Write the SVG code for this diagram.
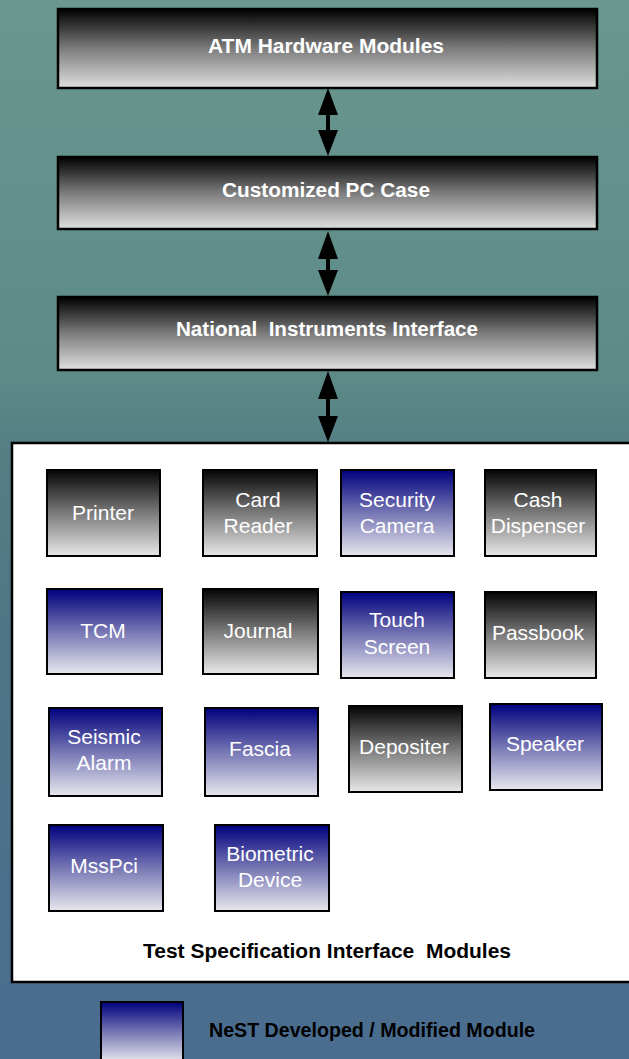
<svg xmlns="http://www.w3.org/2000/svg" width="629" height="1059" viewBox="0 0 629 1059">
<defs>
<linearGradient id="bg" x1="0" y1="0" x2="0" y2="1">
<stop offset="0" stop-color="#6a978f"/>
<stop offset="0.36" stop-color="#5c8a87"/>
<stop offset="0.42" stop-color="#557f84"/>
<stop offset="0.6" stop-color="#4e7585"/>
<stop offset="1" stop-color="#4a6c8f"/>
</linearGradient>
<linearGradient id="gTop" x1="0" y1="0" x2="0" y2="1">
<stop offset="0" stop-color="#000"/>
<stop offset="0.5" stop-color="#7c7c7c"/>
<stop offset="1" stop-color="#e0e0e0"/>
</linearGradient>
<linearGradient id="gBlk" x1="0" y1="0" x2="0" y2="1">
<stop offset="0" stop-color="#050505"/>
<stop offset="0.5" stop-color="#7a7a7a"/>
<stop offset="1" stop-color="#e8e8e8"/>
</linearGradient>
<linearGradient id="gBlu" x1="0" y1="0" x2="0" y2="1">
<stop offset="0" stop-color="#00007e"/>
<stop offset="0.5" stop-color="#7676b4"/>
<stop offset="1" stop-color="#e8e8ee"/>
</linearGradient>
<style>
.top{fill:url(#gTop);stroke:#000;stroke-width:2.5}
.blk{fill:url(#gBlk);stroke:#000;stroke-width:2}
.blu{fill:url(#gBlu);stroke:#000;stroke-width:2}
.tt{font-family:"Liberation Sans",Arial,sans-serif;font-weight:bold;font-size:20px;fill:#fff;text-anchor:middle}
.mt{font-family:"Liberation Sans",Arial,sans-serif;font-size:21px;fill:#fff;text-anchor:middle}
.bt{font-family:"Liberation Sans",Arial,sans-serif;font-weight:bold;font-size:20px;fill:#000}
.arr{fill:#000}
</style>
</defs>
<rect x="0" y="0" width="629" height="1059" fill="url(#bg)"/>

<g id="atm-hardware">
<rect class="top" x="58" y="9" width="539" height="79"/>
<text class="tt" x="326" y="53" textLength="236" lengthAdjust="spacingAndGlyphs">ATM Hardware Modules</text>
</g>
<g id="pc-case">
<rect class="top" x="58" y="157" width="539" height="72"/>
<text class="tt" x="326" y="197" textLength="208" lengthAdjust="spacingAndGlyphs">Customized PC Case</text>
</g>
<g id="ni-interface">
<rect class="top" x="58" y="297" width="539" height="73"/>
<text class="tt" x="327" y="336" textLength="302" lengthAdjust="spacingAndGlyphs" xml:space="preserve">National  Instruments Interface</text>
</g>

<g id="connectors">
<path class="arr" d="M328 88 L338 115 L330 115 L330 130 L338 130 L328 156 L318 130 L326 130 L326 115 L318 115 Z"/>
<path class="arr" d="M328 231 L338 259 L330 259 L330 270 L338 270 L328 296 L318 270 L326 270 L326 259 L318 259 Z"/>
<path class="arr" d="M328 371 L338 399 L330 399 L330 416 L338 416 L328 442 L318 416 L326 416 L326 399 L318 399 Z"/>
</g>

<g id="test-spec-panel">
<rect x="12" y="443" width="625" height="539" fill="#fff" stroke="#000" stroke-width="2.5"/>
<text class="bt" x="143" y="958" textLength="368" lengthAdjust="spacingAndGlyphs" xml:space="preserve">Test Specification Interface  Modules</text>
</g>

<g id="printer">
<rect class="blk" x="47" y="470" width="113" height="86"/>
<text class="mt" x="103" y="520">Printer</text>
</g>
<g id="card-reader">
<rect class="blk" x="203" y="470" width="114" height="86"/>
<text class="mt" x="258" y="507">Card</text>
<text class="mt" x="258" y="533">Reader</text>
</g>
<g id="security-camera">
<rect class="blu" x="341" y="470" width="113" height="86"/>
<text class="mt" x="397" y="507">Security</text>
<text class="mt" x="397" y="533">Camera</text>
</g>
<g id="cash-dispenser">
<rect class="blk" x="485" y="470" width="111" height="86"/>
<text class="mt" x="538" y="507">Cash</text>
<text class="mt" x="538" y="533">Dispenser</text>
</g>

<g id="tcm">
<rect class="blu" x="47" y="589" width="115" height="85"/>
<text class="mt" x="103" y="638">TCM</text>
</g>
<g id="journal">
<rect class="blk" x="203" y="589" width="115" height="85"/>
<text class="mt" x="258" y="638">Journal</text>
</g>
<g id="touch-screen">
<rect class="blu" x="341" y="592" width="113" height="86"/>
<text class="mt" x="397" y="627">Touch</text>
<text class="mt" x="397" y="654">Screen</text>
</g>
<g id="passbook">
<rect class="blk" x="485" y="592" width="111" height="86"/>
<text class="mt" x="538" y="640">Passbook</text>
</g>

<g id="seismic-alarm">
<rect class="blu" x="49" y="708" width="113" height="88"/>
<text class="mt" x="104" y="744">Seismic</text>
<text class="mt" x="104" y="770">Alarm</text>
</g>
<g id="fascia">
<rect class="blu" x="205" y="708" width="113" height="88"/>
<text class="mt" x="260" y="756">Fascia</text>
</g>
<g id="depositer">
<rect class="blk" x="349" y="706" width="113" height="86"/>
<text class="mt" x="404" y="754">Depositer</text>
</g>
<g id="speaker">
<rect class="blu" x="490" y="704" width="112" height="86"/>
<text class="mt" x="545" y="751">Speaker</text>
</g>

<g id="msspci">
<rect class="blu" x="49" y="825" width="114" height="86"/>
<text class="mt" x="104" y="873">MssPci</text>
</g>
<g id="biometric-device">
<rect class="blu" x="215" y="825" width="114" height="86"/>
<text class="mt" x="270" y="861">Biometric</text>
<text class="mt" x="270" y="887">Device</text>
</g>

<g id="legend">
<rect class="blu" x="101" y="1002" width="82" height="60"/>
<text class="bt" x="209" y="1037" textLength="326" lengthAdjust="spacingAndGlyphs">NeST Developed / Modified Module</text>
</g>
</svg>
